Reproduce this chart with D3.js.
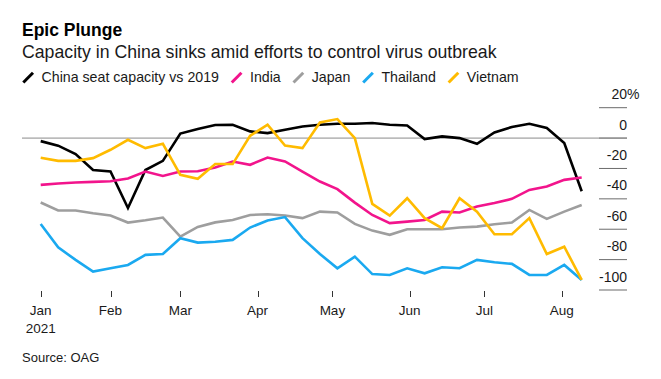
<!DOCTYPE html>
<html>
<head>
<meta charset="utf-8">
<script src="https://cdn.jsdelivr.net/npm/d3@7"></script>
<style>
  body { margin: 0; background: #fff; }
  svg { display: block; font-family: "Liberation Sans", Arial, Helvetica, sans-serif; }
</style>
</head>
<body>
<script>
// weekly seat capacity vs 2019, %
var weeks = ["2021-01-04","2021-01-11","2021-01-18","2021-01-25","2021-02-01","2021-02-08","2021-02-15","2021-02-22",
  "2021-03-01","2021-03-08","2021-03-15","2021-03-22","2021-03-29","2021-04-05","2021-04-12","2021-04-19",
  "2021-04-26","2021-05-03","2021-05-10","2021-05-17","2021-05-24","2021-05-31","2021-06-07","2021-06-14",
  "2021-06-21","2021-06-28","2021-07-05","2021-07-12","2021-07-19","2021-07-26","2021-08-02","2021-08-09"];

var china = [-2, -5, -10.5, -21, -22, -46, -21, -15, 3, 6, 8.6, 8.8, 4.4, 3.3, 5.5, 7.6,
  8.8, 9.4, 9.4, 9.9, 8.8, 8.3, -0.7, 1.1, 0, -3.8, 3.7, 7.3, 9.4, 6.6, -3.3, -35];
var india = [-30.8, -29.9, -29.2, -28.8, -28.4, -26.6, -22, -24.9, -22, -21.8, -19.3, -15.4, -17.6, -12.8, -15.4, -22,
  -28.6, -33.6, -42.5, -50.6, -56, -55, -53.9, -48.4, -49, -45.1, -42.8, -40, -34.1, -31.9, -27.5, -26];
var japan = [-42.4, -47.7, -47.7, -49.5, -51, -55.6, -54.1, -52.3, -64.9, -58.5, -55.5, -53.9, -50.6, -50.1, -51, -52.7,
  -48.4, -49, -56.5, -60.9, -63.7, -60, -60, -60, -58.9, -58.3, -56.7, -55.6, -47.3, -53.2, -48.4, -44];
var thailand = [-56.5, -71.9, -80.2, -87.9, -85.7, -83.5, -76.9, -76.3, -65.9, -68.8, -68.2, -67, -58.9, -54.3, -52, -65.9,
  -76.3, -85.7, -78, -89.5, -90.1, -85.7, -89, -85, -85.7, -80.2, -81.7, -82.8, -90.1, -90.1, -83.5, -93.4];
var vietnam = [-13, -15, -15, -13.2, -7.7, -1.1, -6.6, -3.8, -24.2, -26.8, -17.1, -17.1, 1.5, 8.8, -4.9, -6.6,
  10.3, 12.5, 0, -43.3, -51, -39.6, -52.7, -59.3, -39.6, -48.4, -63.3, -63.3, -52.7, -76.3, -71.5, -93.4];

var seriesNames = ["China seat capacity vs 2019", "India", "Japan", "Thailand", "Vietnam"];
var seriesColors = ["#000000", "#f2148c", "#9e9e9e", "#1aa9f0", "#ffbb00"];
var seriesValues = [china, india, japan, thailand, vietnam];

var yTicks = [20, 0, -20, -40, -60, -80, -100];
var monthTicks = ["2021-01-04","2021-02-01","2021-03-01","2021-04-01","2021-05-01","2021-06-01","2021-07-01","2021-08-01"];

var width = 661, height = 379;
var parse = d3.timeParse("%Y-%m-%d");
var dates = weeks.map(parse);

var svg = d3.select("body").append("svg")
  .attr("width", width)
  .attr("height", height);

//scales
var x = d3.scaleTime()
  .domain([dates[0], dates[dates.length - 1]])
  .range([40.7, 581.7]);
var y = d3.scaleLinear()
  .domain([-100, 20])
  .range([290, 107.7]);

//titles
svg.append("text")
  .attr("x", 22).attr("y", 36)
  .attr("font-size", 17.5).attr("font-weight", "bold").attr("fill", "#000")
  .text("Epic Plunge");
svg.append("text")
  .attr("x", 22).attr("y", 57.5)
  .attr("font-size", 17.7).attr("fill", "#1a1a1a")
  .text("Capacity in China sinks amid efforts to control virus outbreak");

//legend
var lx = 22.5;
seriesNames.forEach(function(name, i) {
  var g = svg.append("g").attr("transform", "translate(" + lx + ",0)");
  g.append("line")
    .attr("x1", 0.8).attr("y1", 82.5)
    .attr("x2", 10.5).attr("y2", 72.8)
    .attr("stroke", seriesColors[i]).attr("stroke-width", 3);
  var t = g.append("text")
    .attr("x", 19).attr("y", 82)
    .attr("font-size", 14.2).attr("fill", "#1a1a1a")
    .text(name);
  lx += 19 + t.node().getComputedTextLength() + 12;
});

//y axis: right side tick lines and labels
var yAxis = svg.append("g");
yAxis.selectAll("line")
  .data(yTicks)
  .enter().append("line")
  .attr("x1", 599).attr("x2", 627)
  .attr("y1", function(d) { return y(d); })
  .attr("y2", function(d) { return y(d); })
  .attr("stroke", "#6b6b6b").attr("stroke-width", 1);
var yl = yAxis.selectAll("text")
  .data(yTicks)
  .enter().append("text")
  .attr("x", 627)
  .attr("y", function(d) { return y(d) - 8.5; })
  .attr("font-size", 14).attr("fill", "#1a1a1a")
  .attr("text-anchor", "end")
  .text(function(d) { return d; });
yl.filter(function(d) { return d === 20; })
  .attr("text-anchor", "start")
  .attr("x", function() { return 627 - this.getComputedTextLength(); })
  .append("tspan").text("%");

//zero line
svg.append("line")
  .attr("x1", 22).attr("x2", 627)
  .attr("y1", y(0)).attr("y2", y(0))
  .attr("stroke", "#8a8a8a").attr("stroke-width", 1);

//x axis
var xAxis = svg.append("g");
var mt = monthTicks.map(parse);
xAxis.selectAll("line")
  .data(mt)
  .enter().append("line")
  .attr("x1", function(d) { return Math.round(x(d)) + 0.5; })
  .attr("x2", function(d) { return Math.round(x(d)) + 0.5; })
  .attr("y1", 291).attr("y2", 297)
  .attr("stroke", "#333").attr("stroke-width", 1);
xAxis.selectAll("text.month")
  .data(mt)
  .enter().append("text")
  .attr("class", "month")
  .attr("x", function(d) { return x(d); })
  .attr("y", 315)
  .attr("font-size", 13.5).attr("fill", "#1a1a1a")
  .attr("text-anchor", "middle")
  .text(d3.timeFormat("%b"));
xAxis.append("text")
  .attr("x", x(mt[0])).attr("y", 333)
  .attr("font-size", 13.5).attr("fill", "#1a1a1a")
  .attr("text-anchor", "middle")
  .text("2021");

//lines
var line = d3.line()
  .x(function(d, i) { return x(dates[i]); })
  .y(function(d) { return y(d); });

svg.selectAll(".series")
  .data(seriesValues)
  .enter().append("path")
  .attr("class", "series")
  .attr("d", line)
  .attr("fill", "none")
  .attr("stroke", function(d, i) { return seriesColors[i]; })
  .attr("stroke-width", 2.6)
  .attr("stroke-linejoin", "miter");

//source
svg.append("text")
  .attr("x", 22).attr("y", 361.7)
  .attr("font-size", 13).attr("fill", "#1a1a1a")
  .text("Source: OAG");
</script>
</body>
</html>
